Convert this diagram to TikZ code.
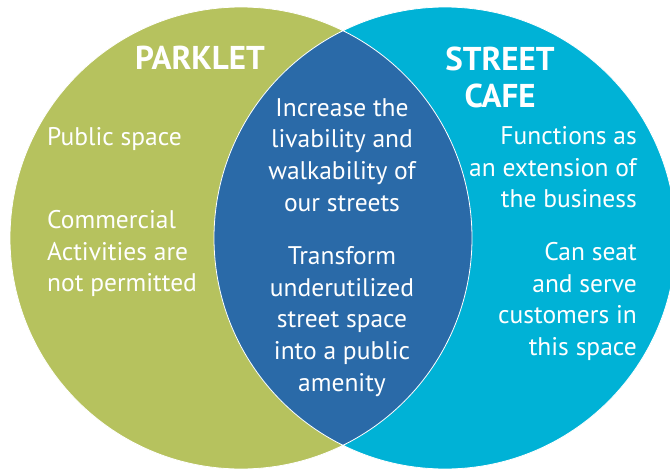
\documentclass[tikz,border=0pt]{standalone}
\usepackage{fontspec}
\setmainfont{PT Sans}
\definecolor{parkgreen}{RGB}{182,194,94}
\definecolor{cafeblue}{RGB}{0,178,214}
\definecolor{lensblue}{RGB}{42,106,168}
\begin{document}
\begin{tikzpicture}[x=1pt,y=-1pt,
	every node/.style={white,inner sep=0pt},
	body/.style={font=\fontsize{25.5}{31.8}\selectfont},
	head/.style={font=\fontsize{33}{37}\selectfont\bfseries}]
	\useasboundingbox (0,0) rectangle (670,469);
	\coordinate (cl) at (241,238);
	\coordinate (cr) at (445,238);

	\fill[parkgreen] (cl) circle(231pt);
	\fill[cafeblue] (cr) circle(231pt);
	\begin{scope}
		\clip (cl) circle(231pt);
		\fill[lensblue] (cr) circle(231pt);
	\end{scope}
	\draw[white,line width=0.8pt] (cl) circle(231pt) (cr) circle(231pt);

	\node[head,anchor=north] (parklet) at (200,46) {PARKLET};
	\node[head,anchor=north,align=center] (cafe) at (500,47) {STREET\\CAFE};

	\node[body,anchor=north west,align=left] (pub) at (47,127) {Public space};
	\node[body,anchor=north west,align=left] (comm) at (47,210) {Commercial\\Activities are\\not permitted};
	\node[body,anchor=north,align=center] (live) at (342,98) {Increase the\\livability and\\walkability of\\our streets};
	\node[body,anchor=north,align=center] (trans) at (342,246) {Transform\\underutilized\\street space\\into a public\\amenity};
	\node[body,anchor=north east,align=right] (func) at (637,126) {Functions as\\an extension of\\the business};
	\node[body,anchor=north east,align=right] (seat) at (637,242) {Can seat\\and serve\\customers in\\this space};
\end{tikzpicture}
\end{document}
